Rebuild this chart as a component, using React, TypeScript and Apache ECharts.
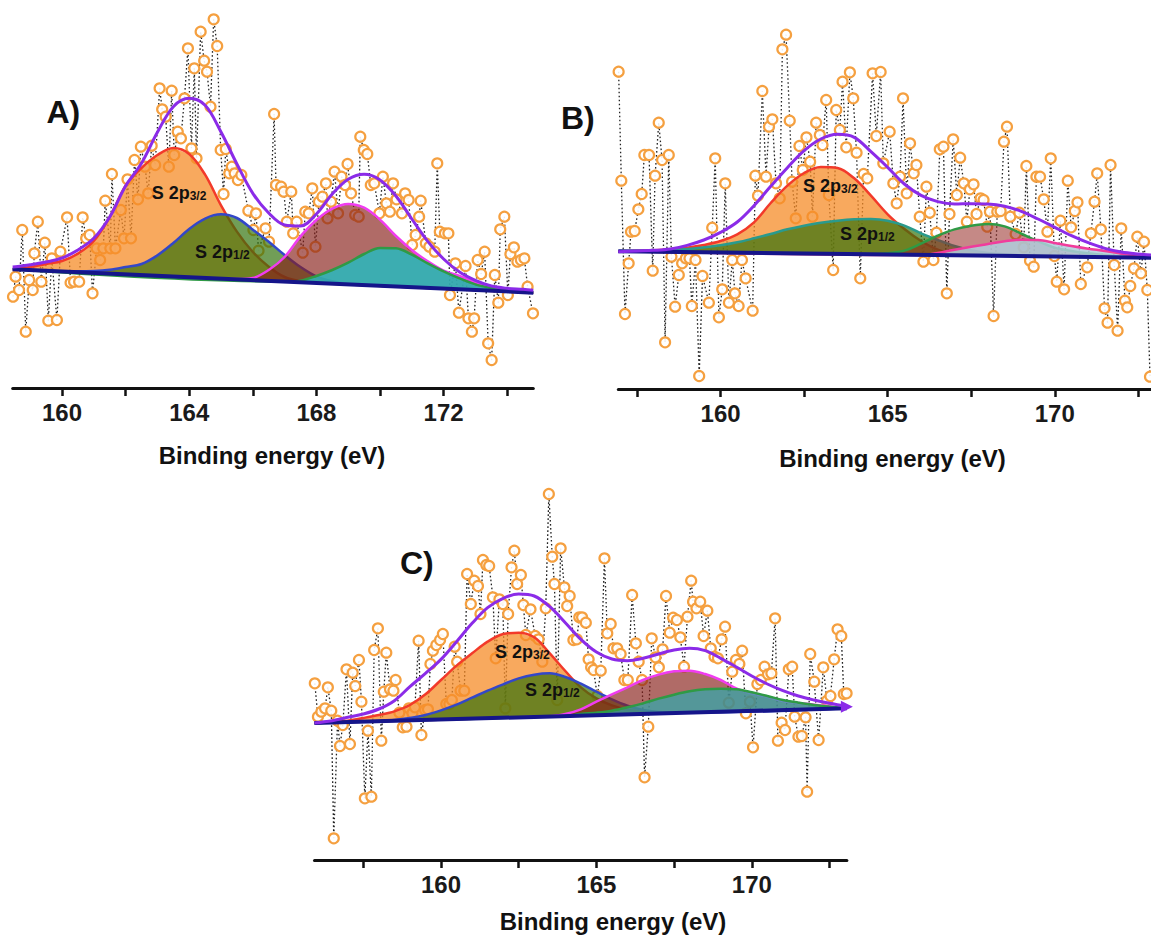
import React, { useEffect, useRef } from 'react';
import * as echarts from 'echarts';

type P = [number, number];

const FONT = "'Liberation Sans', Arial, sans-serif";

// ---------- axis ticks ----------
const labelTicksA = [160, 164, 168, 172];
const allTicksA = [160, 162, 164, 166, 168, 170, 172, 174];
const labelTicksBC = [160, 165, 170];
const allTicksBC = [157.5, 160, 162.5, 165, 167.5, 170, 172.5];

// ---------- Panel A (binding energy eV, intensity a.u.) ----------
const pointsA: P[] = [[158.46,274],[158.54,334],[158.65,294],[158.75,474],[158.86,169],[158.97,324],[159.08,294],[159.13,404],[159.24,499],[159.35,319],[159.46,436],[159.57,202],[159.68,389],[159.84,204],[159.95,409],[160.16,512],[160.27,316],[160.38,319],[160.54,319],[160.65,512],[160.76,449],[160.87,459],[160.96,284],[161.09,419],[161.20,384],[161.30,419],[161.36,562],[161.52,419],[161.57,642],[161.68,419],[161.85,534],[161.95,449],[162.06,626],[162.17,449],[162.28,684],[162.39,566],[162.48,724],[162.61,664],[162.71,584],[162.82,727],[162.93,669],[163.07,899],[163.15,836],[163.26,814],[163.36,664],[163.45,892],[163.53,699],[163.64,769],[163.74,749],[163.85,869],[163.96,1019],[164.07,719],[164.16,959],[164.23,689],[164.36,1069],[164.47,982],[164.56,949],[164.67,844],[164.77,1106],[164.88,1026],[164.99,714],[165.08,582],[165.15,717],[165.26,644],[165.34,664],[165.43,644],[165.53,624],[165.64,639],[165.86,532],[166.02,474],[166.10,524],[166.18,412],[166.40,479],[166.51,439],[166.67,822],[166.73,609],[166.89,604],[166.97,589],[167.07,499],[167.21,589],[167.27,464],[167.38,499],[167.57,406],[167.65,529],[167.76,524],[167.87,599],[167.97,424],[168.08,559],[168.19,574],[168.30,614],[168.35,509],[168.46,559],[168.57,649],[168.68,524],[168.79,634],[168.90,609],[168.98,672],[169.09,584],[169.22,519],[169.33,514],[169.38,754],[169.49,714],[169.60,702],[169.71,609],[169.82,614],[169.98,524],[170.09,634],[170.20,554],[170.31,529],[170.41,614],[170.52,566],[170.69,524],[170.79,584],[170.90,564],[171.01,429],[171.12,459],[171.23,514],[171.28,562],[171.44,434],[171.55,424],[171.72,409],[171.80,674],[171.88,469],[172.04,464],[172.15,464],[172.20,279],[172.37,374],[172.48,226],[172.69,366],[172.78,209],[172.89,169],[172.96,209],[173.07,384],[173.18,342],[173.29,409],[173.40,134],[173.51,84],[173.61,339],[173.72,256],[173.78,476],[173.91,514],[174.02,279],[174.10,402],[174.21,422],[174.32,379],[174.43,384],[174.54,389],[174.64,304],[174.81,224]];
const baselineA: P[] = [[158.45,356],[174.82,286]];
const s2p32A: P[] = [[158.45,356],[159,363],[159.5,372],[160,381],[160.5,403],[161,441],[161.5,513],[162,607],[162.5,660],[163,699],[163.5,720],[164,702],[164.5,640],[165,548],[165.5,469],[166,408],[166.5,364],[167,333],[167.5,320],[168,316],[168.5,313],[174.82,286]];
const s2p12A: P[] = [[158.45,356],[159,354],[159.5,352],[160,350],[160.5,350],[161,351],[161.5,355],[162,363],[162.5,372],[163,398],[163.5,435],[164,477],[164.5,508],[165,521],[165.5,510],[166,475],[166.5,439],[167,399],[167.5,363],[168,335],[168.5,320],[169,312],[169.5,309],[174.82,286]];
const peak3A: P[] = [[158.45,356],[165,328],[165.5,327],[166,330],[166.5,354],[167,393],[167.5,455],[168,504],[168.5,538],[169,552],[169.5,541],[170,505],[170.5,456],[171,414],[171.5,380],[172,352],[172.5,336],[173,318],[173.5,303],[174,294],[174.5,288],[174.82,286]];
const peak4A: P[] = [[158.45,356],[167,319],[167.5,322],[168,336],[168.5,354],[169,376],[169.5,402],[170,420],[170.5,419],[171,400],[171.5,374],[172,350],[172.5,329],[173,311],[173.5,300],[174,293],[174.5,287],[174.82,286]];
const envelopeA: P[] = [[158.45,363],[159,370],[159.5,378],[160,390],[160.5,414],[161,449],[161.5,513],[162,606],[162.5,674],[163,767],[163.5,844],[164,869],[164.5,848],[165,768],[165.5,672],[166,584],[166.5,525],[167,489],[167.5,486],[168,522],[168.5,582],[169,626],[169.5,641],[170,624],[170.5,576],[171,507],[171.5,440],[172,387],[172.5,348],[173,323],[173.5,306],[174,299],[174.5,296],[174.82,293]];

// ---------- Panel B ----------
const pointsB: P[] = [[156.95,952],[157.03,625],[157.14,225],[157.25,377],[157.32,472],[157.43,474],[157.54,539],[157.64,585],[157.72,702],[157.86,702],[157.97,355],[158.04,640],[158.15,799],[158.25,687],[158.34,140],[158.45,702],[158.53,397],[158.64,247],[158.75,342],[158.85,377],[158.96,392],[159.07,392],[159.14,249],[159.25,387],[159.36,39],[159.46,339],[159.65,259],[159.75,484],[159.84,692],[159.95,215],[160.05,299],[160.14,617],[160.25,259],[160.35,387],[160.43,287],[160.54,249],[160.64,387],[160.75,332],[160.96,235],[161.04,640],[161.12,580],[161.25,894],[161.36,637],[161.45,787],[161.55,809],[161.66,617],[161.77,572],[161.85,1019],[161.96,1063],[162.07,805],[162.14,622],[162.25,512],[162.36,729],[162.46,657],[162.57,755],[162.68,682],[162.75,517],[162.86,799],[162.97,762],[163.05,732],[163.16,867],[163.24,582],[163.37,357],[163.46,837],[163.57,777],[163.65,922],[163.76,725],[163.87,950],[163.97,872],[164.07,709],[164.18,332],[164.28,645],[164.39,632],[164.55,947],[164.66,759],[164.79,951],[164.87,677],[165.06,772],[165.17,617],[165.27,557],[165.37,637],[165.46,872],[165.57,587],[165.67,737],[165.78,647],[165.86,672],[165.96,517],[166.07,382],[166.16,607],[166.26,529],[166.37,387],[166.46,469],[166.56,719],[166.67,727],[166.77,287],[166.85,525],[166.96,749],[167.07,582],[167.17,694],[167.28,617],[167.37,502],[167.46,599],[167.57,614],[167.66,525],[167.78,572],[167.87,567],[167.98,487],[168.06,532],[168.17,219],[168.28,532],[168.38,534],[168.48,742],[168.57,787],[168.67,517],[168.83,465],[168.94,529],[169.07,425],[169.15,669],[169.26,385],[169.37,367],[169.45,637],[169.56,637],[169.67,569],[169.78,472],[169.88,692],[169.99,399],[170.06,322],[170.17,505],[170.28,299],[170.39,625],[170.49,485],[170.60,534],[170.68,560],[170.78,315],[170.97,365],[171.08,467],[171.19,562],[171.27,647],[171.38,479],[171.49,242],[171.58,199],[171.67,672],[171.78,372],[171.88,175],[171.99,482],[172.10,265],[172.17,245],[172.26,309],[172.37,362],[172.47,457],[172.58,347],[172.67,442],[172.77,297],[172.85,37]];
const baselineB: P[] = [[156.94,413],[172.88,394]];
const s2p32B: P[] = [[156.94,413],[157.5,414],[158,416],[158.5,419],[159,424],[159.5,432],[160,444],[160.5,464],[161,500],[161.5,558],[162,610],[162.5,648],[163,666],[163.5,663],[164,632],[164.5,580],[165,524],[165.5,480],[166,444],[166.5,418],[167,405],[167.5,400],[168,400],[172.88,394]];
const s2p12B: P[] = [[156.94,413],[157.5,414],[158,415],[158.5,417],[159,420],[159.5,425],[160,431],[160.5,440],[161,452],[161.5,465],[162,479],[162.5,490],[163,499],[163.5,505],[164,509],[164.5,510],[165,505],[165.5,490],[166,467],[166.5,447],[167,429],[167.5,416],[168,408],[168.5,404],[169,401],[169.5,399],[170,397],[172.88,394]];
const peak3B: P[] = [[156.94,413],[164.5,404],[165,407],[165.5,415],[166,436],[166.5,460],[167,479],[167.5,490],[168,495],[168.5,488],[169,466],[169.5,443],[170,424],[170.5,414],[171,407],[171.5,402],[172,398],[172.5,395],[172.88,394]];
const peak4B: P[] = [[156.94,413],[166,402],[166.5,408],[167,418],[167.5,427],[168,435],[168.5,443],[169,448],[169.5,447],[170,438],[170.5,429],[171,421],[171.5,414],[172,406],[172.5,399],[172.88,394]];
const envelopeB: P[] = [[156.94,412],[157.5,414],[158,416],[158.5,420],[159,431],[159.5,447],[160,470],[160.5,501],[161,550],[161.5,608],[162,664],[162.5,715],[163,750],[163.5,764],[164,755],[164.5,712],[165,665],[165.5,615],[166,581],[166.5,562],[167,555],[167.5,556],[168,555],[168.5,548],[169,533],[169.5,510],[170,485],[170.5,460],[171,439],[171.5,422],[172,411],[172.5,405],[172.88,402]];

// ---------- Panel C ----------
const pointsC: P[] = [[155.94,530],[156.04,430],[156.15,445],[156.27,455],[156.36,518],[156.47,448],[156.55,65],[156.67,418],[156.75,342],[156.84,405],[156.96,572],[157.07,348],[157.16,562],[157.24,522],[157.36,600],[157.44,475],[157.55,185],[157.65,388],[157.76,190],[157.85,630],[157.97,695],[158.08,358],[158.16,505],[158.24,622],[158.36,512],[158.47,508],[158.54,540],[158.66,442],[158.77,398],[158.89,400],[158.97,455],[159.08,440],[159.16,458],[159.28,658],[159.37,375],[159.49,450],[159.58,452],[159.66,588],[159.74,628],[159.85,645],[159.97,660],[160.06,678],[160.17,468],[160.27,468],[160.35,480],[160.44,640],[160.52,595],[160.63,508],[160.75,508],[160.84,858],[160.96,768],[161.07,838],[161.19,822],[161.27,738],[161.35,900],[161.46,885],[161.55,882],[161.67,788],[161.76,605],[161.88,782],[161.99,768],[162.07,455],[162.16,738],[162.27,878],[162.36,928],[162.45,828],[162.57,855],[162.65,765],[162.73,675],[162.88,752],[163.03,672],[163.14,662],[163.26,595],[163.37,755],[163.47,1098],[163.58,910],[163.65,828],[163.74,480],[163.85,935],[163.97,818],[164.06,762],[164.14,792],[164.26,660],[164.37,662],[164.45,728],[164.54,728],[164.66,712],[164.75,602],[164.83,578],[164.91,570],[165.03,492],[165.14,568],[165.26,905],[165.35,680],[165.46,708],[165.55,635],[165.67,635],[165.78,618],[165.90,540],[166.01,540],[166.15,795],[166.27,650],[166.36,595],[166.47,540],[166.55,248],[166.67,400],[166.78,665],[166.90,608],[167.01,578],[167.13,632],[167.24,792],[167.36,682],[167.47,727],[167.59,720],[167.70,668],[167.82,580],[167.93,730],[168.05,838],[168.11,775],[168.22,755],[168.34,775],[168.45,672],[168.57,748],[168.68,635],[168.80,610],[168.91,605],[169.03,662],[169.14,700],[169.26,472],[169.37,565],[169.49,600],[169.60,588],[169.69,628],[169.81,440],[169.94,475],[170.04,338],[170.18,528],[170.29,540],[170.41,580],[170.52,557],[170.63,560],[170.75,725],[170.84,358],[170.96,412],[171.07,390],[171.19,572],[171.30,580],[171.38,430],[171.50,370],[171.61,372],[171.73,428],[171.78,205],[171.88,618],[172.01,535],[172.15,360],[172.30,578],[172.42,478],[172.53,492],[172.65,602],[172.76,692],[172.88,672],[172.96,498],[173.05,500]];
const baselineC: P[] = [[155.93,411],[173.06,455]];
const s2p32C: P[] = [[155.93,411],[156.5,413],[157,418],[157.5,426],[158,435],[158.5,446],[159,465],[159.5,497],[160,540],[160.5,583],[161,620],[161.5,655],[162,678],[162.5,682],[163,668],[163.5,620],[164,567],[164.5,518],[165,485],[165.5,464],[166,451],[166.5,445],[167,443],[167.5,443],[173.06,455]];
const s2p12C: P[] = [[155.93,411],[157,414],[157.5,415],[158,417],[158.5,420],[159,426],[159.5,435],[160,449],[160.5,466],[161,487],[161.5,508],[162,527],[162.5,545],[163,556],[163.5,560],[164,549],[164.5,529],[165,505],[165.5,482],[166,463],[166.5,450],[167,444],[167.5,442],[168,442],[173.06,455]];
const peak3C: P[] = [[155.93,411],[163.5,431],[164,438],[164.5,452],[165,475],[165.5,497],[166,518],[166.5,540],[167,556],[167.5,566],[168,568],[168.5,558],[169,540],[169.5,515],[170,500],[170.5,490],[171,477],[171.5,471],[172,466],[172.5,461],[173,456],[173.06,455]];
const peak4C: P[] = [[155.93,411],[164,432],[164.5,438],[165,442],[165.5,448],[166,458],[166.5,470],[167,484],[167.5,496],[168,506],[168.5,512],[169,514],[169.5,512],[170,503],[170.5,492],[171,480],[171.5,472],[172,465],[172.5,460],[173,456],[173.06,455]];
const envelopeC: P[] = [[155.93,411],[156.5,418],[157,428],[157.5,438],[158,453],[158.5,478],[159,520],[159.5,560],[160,602],[160.5,655],[161,710],[161.5,757],[162,785],[162.5,798],[163,792],[163.5,760],[164,712],[164.5,662],[165,624],[165.5,603],[166,598],[166.5,605],[167,618],[167.5,630],[168,635],[168.5,628],[169,605],[169.5,579],[170,552],[170.5,528],[171,508],[171.5,492],[172,480],[172.5,470],[173,462],[173.06,460]];

// ---------- styling ----------
const ORANGE_FILL = 'rgba(246,140,40,0.75)';
const GREEN_FILL = 'rgba(45,112,8,0.68)';
const MAROON_FILL = 'rgba(135,30,25,0.66)';
const CYAN_FILL = 'rgba(40,185,190,0.85)';
const RED = '#F23A2A';
const BLUE = '#3347C8';
const MAGENTA = '#F03CF0';
const GREEN = '#2F9A45';
const TEAL = '#2A9A8C';
const PINK = '#F03C9C';
const PURPLE = '#8B2BE8';
const NAVY = '#15158A';

type Peak = { data: P[]; fill: string; line: string };

function panelSeries(idx: number, points: P[], baseline: P[], peaks: Peak[], envelope: P[], endArrow: boolean) {
  const out: any[] = [];
  out.push({
    type: 'line', xAxisIndex: idx, yAxisIndex: idx, data: points, z: 1,
    symbol: 'circle', symbolSize: 10, showSymbol: true, showAllSymbol: true,
    lineStyle: { type: [1.6, 2.4], width: 1.3, color: '#222' },
    itemStyle: { color: 'rgba(255,255,255,0.9)', borderColor: '#F5A040', borderWidth: 2.2 },
    silent: true,
  });
  peaks.forEach((pk, i) => {
    const curve = pk.data;
    out.push({
      type: 'custom', xAxisIndex: idx, yAxisIndex: idx, z: 2 + i * 2, silent: true,
      data: [curve[0]],
      renderItem: (_params: any, api: any) => ({
        type: 'polygon',
        shape: { points: curve.map((p) => api.coord(p)) },
        style: { fill: pk.fill },
      }),
    });
    out.push({
      type: 'line', xAxisIndex: idx, yAxisIndex: idx, data: curve, z: 3 + i * 2,
      smooth: 0.35, showSymbol: false, silent: true,
      lineStyle: { color: pk.line, width: 2.5 },
    });
  });
  out.push({
    type: 'line', xAxisIndex: idx, yAxisIndex: idx, data: baseline, z: 20,
    showSymbol: false, silent: true, lineStyle: { color: NAVY, width: 4 },
  });
  const envData = envelope.map((p, i) =>
    endArrow && i === envelope.length - 1
      ? { value: p, symbol: 'triangle', symbolSize: 12, symbolRotate: -90, itemStyle: { color: PURPLE } }
      : { value: p, symbol: 'none' });
  out.push({
    type: 'line', xAxisIndex: idx, yAxisIndex: idx, data: envData, z: 21,
    smooth: 0.35, showSymbol: true, showAllSymbol: true, silent: true,
    lineStyle: { color: PURPLE, width: 3 },
  });
  return out;
}

function xAxis(idx: number, min: number, max: number, labels: number[], ticks: number[]) {
  return {
    gridIndex: idx, type: 'value', min, max, position: 'bottom',
    axisLine: { show: true, onZero: false, lineStyle: { color: '#111', width: 3 } },
    axisTick: { show: true, inside: false, length: 8, customValues: ticks, lineStyle: { color: '#111', width: 2.5 } },
    axisLabel: { show: true, customValues: labels, margin: 12, fontSize: 24, fontWeight: 'bold', color: '#1a1a1a', fontFamily: FONT },
    splitLine: { show: false },
  };
}

function yAxis(idx: number, max: number) {
  return { gridIndex: idx, type: 'value', min: 0, max, show: false };
}

const richLabel = {
  s: { fontSize: 18, fontWeight: 'bold', fontFamily: FONT, fill: '#111', color: '#111', lineHeight: 22, verticalAlign: 'bottom' },
  u: { fontSize: 12, fontWeight: 'bold', fontFamily: FONT, fill: '#111', color: '#111', lineHeight: 12, verticalAlign: 'bottom' },
};

function peakText(x: number, y: number, sub: string) {
  return {
    type: 'text', x, y, z: 50, silent: true,
    style: { text: '{s|S 2p}{u|' + sub + '}', rich: richLabel, align: 'left', verticalAlign: 'middle' },
  };
}

function plainText(x: number, y: number, text: string, size: number, align: string) {
  return {
    type: 'text', x, y, z: 50, silent: true,
    style: { text, fontSize: size, fontWeight: 'bold', fontFamily: FONT, fill: '#111', align, verticalAlign: 'middle' },
  };
}

export default function App() {
  const ref = useRef<HTMLDivElement>(null);
  useEffect(() => {
    if (!ref.current) return;
    const chart = echarts.init(ref.current, undefined, { renderer: 'svg' });
    const option: any = {
      animation: false,
      backgroundColor: '#ffffff',
      grid: [
        { left: 12.7, top: 0, width: 520.6, height: 388 },
        { left: 618.3, top: 0, width: 532.7, height: 389 },
        { left: 314.5, top: 480, width: 532.4, height: 380 },
      ],
      xAxis: [
        xAxis(0, 158.45, 174.82, labelTicksA, allTicksA),
        xAxis(1, 156.94, 172.88, labelTicksBC, allTicksBC),
        xAxis(2, 155.93, 173.06, labelTicksBC, allTicksBC),
      ],
      yAxis: [yAxis(0, 1164), yAxis(1, 1167), yAxis(2, 1140)],
      series: [
        ...panelSeries(0, pointsA, baselineA, [
          { data: s2p32A, fill: ORANGE_FILL, line: RED },
          { data: s2p12A, fill: GREEN_FILL, line: BLUE },
          { data: peak3A, fill: MAROON_FILL, line: MAGENTA },
          { data: peak4A, fill: CYAN_FILL, line: GREEN },
        ], envelopeA, false),
        ...panelSeries(1, pointsB, baselineB, [
          { data: s2p32B, fill: ORANGE_FILL, line: RED },
          { data: s2p12B, fill: GREEN_FILL, line: TEAL },
          { data: peak3B, fill: 'rgba(150,40,35,0.55)', line: GREEN },
          { data: peak4B, fill: 'rgba(175,205,220,0.85)', line: PINK },
        ], envelopeB, false),
        ...panelSeries(2, pointsC, baselineC, [
          { data: s2p32C, fill: ORANGE_FILL, line: RED },
          { data: s2p12C, fill: GREEN_FILL, line: BLUE },
          { data: peak3C, fill: MAROON_FILL, line: MAGENTA },
          { data: peak4C, fill: 'rgba(45,170,175,0.7)', line: GREEN },
        ], envelopeC, true),
      ],
      graphic: [
        plainText(46.5, 112, 'A)', 32, 'left'),
        plainText(561, 118, 'B)', 32, 'left'),
        plainText(400, 563, 'C)', 32, 'left'),
        plainText(272, 455, 'Binding energy (eV)', 24, 'center'),
        plainText(892.5, 458, 'Binding energy (eV)', 24, 'center'),
        plainText(613, 921, 'Binding energy (eV)', 24, 'center'),
        peakText(151.7, 191, '3/2'),
        peakText(195, 249.7, '1/2'),
        peakText(803, 183.7, '3/2'),
        peakText(840, 231.7, '1/2'),
        peakText(495, 650, '3/2'),
        peakText(525, 688.3, '1/2'),
      ],
    };
    chart.setOption(option);
    return () => chart.dispose();
  }, []);
  return (
    <div
      ref={ref}
      style={{ position: 'fixed', left: 0, top: 0, width: 1151, height: 939, background: '#fff' }}
    />
  );
}
